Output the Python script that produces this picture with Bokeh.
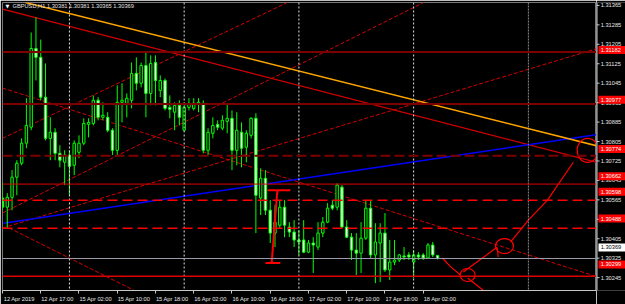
import numpy as np
from bokeh.plotting import figure
from bokeh.layouts import row
from bokeh.models import Range1d, FixedTicker, Label, Span, ColumnDataSource
from bokeh.core.properties import value
from bokeh.embed import file_html
from bokeh.resources import INLINE

symbol = "GBPUSD"
timeframe = "H1"

# ---------------- data: hourly bars (index 0 = 15 Apr 00:00) ----------------
bar_index = list(range(-14, 78))
opens = [1.30607, 1.30571, 1.30610, 1.30689, 1.30744, 1.30823, 1.30886, 1.31196, 1.31161, 1.31004,
         1.30842, 1.30866, 1.30783, 1.30748, 1.30776, 1.30736, 1.30787, 1.30823, 1.30897, 1.30901,
         1.30992, 1.30925, 1.30925, 1.30874, 1.30795, 1.30984, 1.30980, 1.30992, 1.31098, 1.31059,
         1.31129, 1.31019, 1.31141, 1.31031, 1.31070, 1.30964, 1.30945, 1.30972, 1.30874, 1.30964,
         1.30960, 1.30980, 1.30980, 1.30795, 1.30862, 1.30897, 1.30882, 1.30909, 1.30921, 1.30795,
         1.30866, 1.30807, 1.30854, 1.30921, 1.30607, 1.30685, 1.30559, 1.30469, 1.30500, 1.30571,
         1.30493, 1.30473, 1.30442, 1.30442, 1.30394, 1.30430, 1.30414, 1.30469, 1.30512, 1.30579,
         1.30571, 1.30650, 1.30493, 1.30453, 1.30402, 1.30390, 1.30449, 1.30567, 1.30383, 1.30430,
         1.30469, 1.30324, 1.30355, 1.30363, 1.30379, 1.30383, 1.30355, 1.30383, 1.30383, 1.30371,
         1.30422, 1.30381]
highs = [1.30669, 1.30626, 1.30717, 1.30756, 1.30842, 1.31000, 1.31259, 1.31318, 1.31231, 1.31137,
         1.30925, 1.30882, 1.30815, 1.30795, 1.30795, 1.30834, 1.30854, 1.30921, 1.30921, 1.31011,
         1.31004, 1.30984, 1.30945, 1.30882, 1.31051, 1.31059, 1.31019, 1.31141, 1.31161, 1.31141,
         1.31180, 1.31169, 1.31169, 1.31090, 1.31078, 1.31011, 1.30984, 1.30992, 1.30984, 1.31000,
         1.31000, 1.31000, 1.30992, 1.30882, 1.30925, 1.30913, 1.30933, 1.30980, 1.30952, 1.30945,
         1.30905, 1.30874, 1.30925, 1.30941, 1.30724, 1.30717, 1.30599, 1.30579, 1.30599, 1.30599,
         1.30512, 1.30520, 1.30481, 1.30520, 1.30442, 1.30453, 1.30512, 1.30532, 1.30587, 1.30599,
         1.30665, 1.30658, 1.30520, 1.30469, 1.30469, 1.30512, 1.30599, 1.30599, 1.30508, 1.30508,
         1.30548, 1.30442, 1.30442, 1.30387, 1.30414, 1.30394, 1.30402, 1.30394, 1.30390, 1.30430,
         1.30434, 1.30381]
lows = [1.30559, 1.30489, 1.30559, 1.30618, 1.30736, 1.30803, 1.30874, 1.31070, 1.30992, 1.30834,
        1.30756, 1.30756, 1.30728, 1.30658, 1.30618, 1.30697, 1.30764, 1.30815, 1.30846, 1.30893,
        1.30913, 1.30913, 1.30866, 1.30776, 1.30776, 1.30905, 1.30925, 1.30960, 1.31031, 1.31043,
        1.30925, 1.30972, 1.30972, 1.31004, 1.30952, 1.30921, 1.30874, 1.30893, 1.30874, 1.30952,
        1.30952, 1.30945, 1.30783, 1.30776, 1.30842, 1.30874, 1.30874, 1.30862, 1.30717, 1.30736,
        1.30728, 1.30748, 1.30842, 1.30469, 1.30540, 1.30540, 1.30430, 1.30414, 1.30489, 1.30453,
        1.30453, 1.30414, 1.30383, 1.30390, 1.30390, 1.30312, 1.30402, 1.30453, 1.30508, 1.30559,
        1.30559, 1.30489, 1.30449, 1.30363, 1.30304, 1.30312, 1.30442, 1.30371, 1.30272, 1.30276,
        1.30316, 1.30284, 1.30343, 1.30355, 1.30363, 1.30363, 1.30292, 1.30363, 1.30363, 1.30367,
        1.30375, 1.30365]
closes = [1.30571, 1.30610, 1.30689, 1.30744, 1.30823, 1.30893, 1.31196, 1.31161, 1.31004, 1.30842,
          1.30866, 1.30783, 1.30756, 1.30776, 1.30732, 1.30823, 1.30823, 1.30901, 1.30905, 1.30992,
          1.30925, 1.30933, 1.30874, 1.30795, 1.30984, 1.30992, 1.31000, 1.31098, 1.31059, 1.31129,
          1.31019, 1.31137, 1.31070, 1.31070, 1.30960, 1.30956, 1.30972, 1.30925, 1.30964, 1.30980,
          1.30980, 1.30984, 1.30795, 1.30866, 1.30893, 1.30886, 1.30913, 1.30921, 1.30795, 1.30874,
          1.30803, 1.30862, 1.30921, 1.30618, 1.30685, 1.30559, 1.30469, 1.30512, 1.30571, 1.30500,
          1.30473, 1.30442, 1.30434, 1.30394, 1.30430, 1.30422, 1.30469, 1.30512, 1.30567, 1.30567,
          1.30658, 1.30493, 1.30453, 1.30402, 1.30390, 1.30449, 1.30567, 1.30383, 1.30434, 1.30469,
          1.30324, 1.30355, 1.30363, 1.30383, 1.30375, 1.30375, 1.30383, 1.30375, 1.30371, 1.30422,
          1.30383, 1.30369]

time_ticks = [-14, -6, 2, 10, 18, 26, 34, 42, 50, 58, 66, 74]
time_labels = ["12 Apr 2019", "12 Apr 17:00", "15 Apr 02:00", "15 Apr 10:00", "15 Apr 18:00",
               "16 Apr 02:00", "16 Apr 10:00", "16 Apr 18:00", "17 Apr 02:00", "17 Apr 10:00",
               "17 Apr 18:00", "18 Apr 02:00"]
day_separators = [0, 24, 48, 72]
future_separators = [96]

price_ticks = [1.31365, 1.31285, 1.31205, 1.31125, 1.31045, 1.30965, 1.30885, 1.30805,
               1.30725, 1.30645, 1.30565, 1.30485, 1.30405, 1.30325, 1.30245]

level_prices = [1.31182, 1.30977, 1.30774, 1.30662, 1.30598, 1.30488, 1.30299]

# trend lines: end points (bar index, price)
orange_x = [-9.2, 110.25]
orange_p = [1.31377, 1.30813]
red_x = [-14.0, 110.25]
red_p = [1.31351, 1.30748]
blue_x = [-13.8, 110.25]
blue_p = [1.30508, 1.30857]
dashed_x0 = [-14.0, -14.0, -14.0, -14.0, -12.6]
dashed_p0 = [1.30842, 1.30548, 1.30489, 1.31040, 1.30489]
dashed_x1 = [45.6, 74.1, 110.25, 110.25, 19.0]
dashed_p1 = [1.31377, 1.31377, 1.31195, 1.30298, 1.30192]

# hand drawn red marks
stroke_x = [[78.0, 79.7, 81.8], [82.4, 89.5], [83.3, 88.1], [89.5, 89.7], [92.3, 96.0, 100.0, 105.4]]
stroke_p = [[1.30371, 1.30337, 1.30304], [1.30316, 1.30414], [1.30292, 1.30221], [1.30410, 1.30375],
            [1.30434, 1.30520, 1.30599, 1.30748]]
circle_x = [83.3, 91.0, 108.4]
circle_p = [1.30304, 1.30418, 1.30795]
marker_x = [43.5, 42.3]
marker_p = [1.30638, 1.30351]
cap_x0 = [41.4, 41.0]
cap_x1 = [46.2, 44.1]
cap_p = [1.30638, 1.30351]

# ---------------- styling ----------------
FONT = "Liberation Sans"
FS = "5.7px"
AXIS_COL = "#c8c8c8"
LABEL_COL = "#e8e8e8"
circle_w = [15, 18, 21]
circle_h = [13, 15, 24]
level_color = ["#7d0000", "#7d0000", "#7d0000", "#dd0000", "#ff0000", "#ff0000", "#dd0000"]
level_width = [2, 2, 2, 1, 1.5, 1.5, 1.5]
level_dash = ["solid", "solid", "10 4", "solid", "10 5", "10 5", "solid"]

FRAME_H = 289      # plot frame height in px
BOTTOM = 13        # time-scale band height in px
X_RANGE = Range1d(-14.0, 110.25)
Y_RANGE = Range1d(1.30243, 1.31377)

p = figure(width=596, height=304, output_backend="svg", toolbar_location=None, tools="",
           x_range=X_RANGE, y_range=Y_RANGE,
           y_axis_location=None, x_axis_location="below",
           min_border_left=2, min_border_right=0, min_border_top=2, min_border_bottom=BOTTOM,
           background_fill_color="black", border_fill_color="black",
           outline_line_color="#7a7a7a")
p.grid.visible = False

# x axis: labels start right after their tick mark (MT4 style)
label_shift = 3.5
label_centers = [round(t + label_shift, 2) for t in time_ticks]
p.xaxis.ticker = FixedTicker(ticks=label_centers, minor_ticks=time_ticks)
p.xaxis.major_label_overrides = {c: t for c, t in zip(label_centers, time_labels)}
p.xaxis.major_tick_out = 0
p.xaxis.major_tick_in = 0
p.xaxis.major_tick_line_color = None
p.xaxis.minor_tick_out = 3
p.xaxis.minor_tick_in = 0
p.xaxis.minor_tick_line_color = AXIS_COL
p.xaxis.axis_line_color = AXIS_COL
p.xaxis.major_label_standoff = 2
p.xaxis.major_label_text_font = FONT
p.xaxis.major_label_text_font_size = FS
p.xaxis.major_label_text_color = LABEL_COL

# period separators
for d in day_separators:
    p.add_layout(Span(location=d, dimension="height", line_color="#e0e0e0", line_dash="2 2", line_width=1))
for d in future_separators:
    p.add_layout(Span(location=d, dimension="height", line_color="#8a8a8a", line_dash="2 1", line_width=1))

# horizontal levels
for lv, col, w, dsh in zip(level_prices, level_color, level_width, level_dash):
    p.add_layout(Span(location=lv, dimension="width", line_color=col, line_width=w, line_dash=dsh))
p.add_layout(Span(location=closes[-1], dimension="width", line_color="#9a9aa8", line_width=1))

# trend lines
p.segment(x0=dashed_x0, y0=dashed_p0, x1=dashed_x1, y1=dashed_p1,
          line_color="#d40000", line_width=1, line_dash="4 2")
p.line(red_x, red_p, line_color="#d40000", line_width=1.2)
p.line(blue_x, blue_p, line_color="#0000ff", line_width=1.5)
p.line(orange_x, orange_p, line_color="#ffa500", line_width=1.5)

# candles
o = np.array(opens); c = np.array(closes)
src = ColumnDataSource(dict(x=bar_index, h=highs, l=lows,
                            top=np.maximum(o, c), bottom=np.minimum(o, c),
                            fill=["white" if cc < oo else "black" for oo, cc in zip(opens, closes)]))
p.segment(x0="x", y0="l", x1="x", y1="h", source=src, line_color="#00ff00", line_width=1)
p.vbar(x="x", top="top", bottom="bottom", width=0.5, source=src,
       fill_color="fill", line_color="#00ff00", line_width=1)

# hand-drawn red marks
p.multi_line(stroke_x, stroke_p, line_color="#ff0000", line_width=1.2)
p.ellipse(x=circle_x, y=circle_p, width=circle_w, height=circle_h,
          width_units="screen", height_units="screen",
          fill_color=None, line_color="#ff0000", line_width=1.2)
p.line(marker_x, marker_p, line_color="#ff0000", line_width=2)
p.segment(x0=cap_x0, y0=cap_p, x1=cap_x1, y1=cap_p, line_color="#ff0000", line_width=2)

# caption
caption = f"{symbol},{timeframe}  {opens[-1]:.5f} {highs[-1]:.5f} {lows[-1]:.5f} {closes[-1]:.5f}"
p.add_layout(Label(x=3, y=285, x_units="screen", y_units="screen", text="\u25BC",
                   text_font="DejaVu Sans", text_font_size="5px", text_color="white",
                   text_baseline="middle"))
p.add_layout(Label(x=10, y=285, x_units="screen", y_units="screen", text=caption,
                   text_font=FONT, text_font_size=FS, text_color="#e0e0e0",
                   text_baseline="middle"))

# ---------------- price scale strip ----------------
# its frame runs down to the page bottom, so extend the price range by the same pixel scale
span_p = Y_RANGE.end - Y_RANGE.start
strip_range = Range1d(Y_RANGE.start - span_p * BOTTOM / FRAME_H, Y_RANGE.end)
s = figure(width=29, height=304, output_backend="svg", toolbar_location=None, tools="",
           x_range=Range1d(0, 29), y_range=strip_range,
           x_axis_location=None, y_axis_location=None,
           min_border_left=0, min_border_right=0, min_border_top=2, min_border_bottom=0,
           background_fill_color="black", border_fill_color="black", outline_line_color=None)
s.grid.visible = False
n = len(price_ticks)
s.add_layout(Span(location=0.5, dimension="height", line_color=AXIS_COL, line_width=1))
s.segment(x0=[0] * n, y0=price_ticks, x1=[3] * n, y1=price_ticks, line_color=AXIS_COL, line_width=1)
s.text(x=[4.2] * n, y=price_ticks, text=[f"{t:.5f}" for t in price_ticks],
       text_font=value(FONT), text_font_size=FS, text_color=LABEL_COL,
       text_align="left", text_baseline="middle")

m = len(level_prices)
s.rect(x=[15.5] * m, y=level_prices, width=27, height=8, height_units="screen",
       fill_color="#ff0000", line_color=None)
s.text(x=[4.2] * m, y=level_prices, text=[f"{lv:.5f}" for lv in level_prices],
       text_font=value(FONT), text_font_size=FS, text_color="white",
       text_align="left", text_baseline="middle")
s.rect(x=[15.5], y=[closes[-1]], width=27, height=8, height_units="screen",
       fill_color="white", line_color=None)
s.text(x=[4.2], y=[closes[-1]], text=[f"{closes[-1]:.5f}"],
       text_font=value(FONT), text_font_size=FS, text_color="black",
       text_align="left", text_baseline="middle")

layout = row(p, s, spacing=0)
open("out.html", "w").write(file_html(layout, INLINE))
